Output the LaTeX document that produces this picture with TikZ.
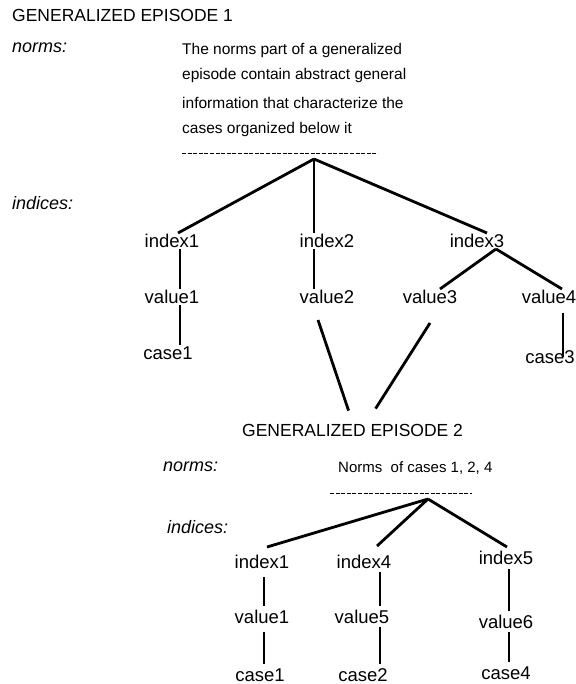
\documentclass[tikz,border=0pt]{standalone}
\usepackage{fontspec}
\setmainfont{Liberation Sans}

\begin{document}
\begin{tikzpicture}[x=1pt,y=-1pt,
  lbl/.style={inner sep=1pt,font=\fontsize{18.5}{20}\selectfont},
  head/.style={anchor=west,inner sep=0pt,font=\fontsize{17.5}{20}\selectfont},
  side/.style={anchor=west,inner sep=0pt,font=\fontsize{18}{20}\selectfont\itshape},
  note/.style={inner sep=0pt,font=\fontsize{15.5}{25}\selectfont},
  edge/.style={line width=2.8pt},
  gap/.style={edge,shorten <=#1,shorten >=3pt},
  rule/.style={line width=1pt,dash pattern=on 4pt off 1.6pt}]

\useasboundingbox (0,0) rectangle (575,684);

% Define coordinates
\coordinate (dashA1) at (182,154);
\coordinate (dashA2) at (378,154);
\coordinate (rootA) at (314,159);
\coordinate (dashB1) at (330,493);
\coordinate (dashB2) at (472,493);
\coordinate (rootB) at (428,499);

% EPISODE 1 texts
\node[head] (epA) at (12,15) {GENERALIZED EPISODE 1};
\node[side] (normsA) at (12,48) {norms:};
\node[note,anchor=north west,align=left] (textA) at (182,43)
  {The norms part of a generalized\\ episode contain abstract general\\[4pt]
   information that characterize the\\ cases organized below it};
\node[side] (indA) at (12,203) {indices:};
\draw[rule] (dashA1) -- (dashA2);

% EPISODE 1 tree
\node[lbl] (idxA1) at (172,241) {index1};
\node[lbl] (idxA2) at (327,241) {index2};
\node[lbl] (idxA3) at (477,241) {index3};
\node[lbl] (valA1) at (172,297) {value1};
\node[lbl] (valA2) at (327,297) {value2};
\node[lbl] (valA3) at (430,297) {value3};
\node[lbl] (valA4) at (549,297) {value4};
\node[lbl] (caseA1) at (168,353) {case1};
\node[lbl] (caseA3) at (550,357) {case3};

\draw[edge] (rootA) -- ([xshift=6pt]idxA1.north);
\draw[edge] (rootA) -- ([xshift=-13pt]idxA2.north);
\draw[edge] (rootA) -- ([xshift=10pt]idxA3.north);
\draw[edge] ([xshift=8pt]idxA1.south) -- ([xshift=8pt]valA1.north);
\draw[edge] ([xshift=8pt]valA1.south) -- ([xshift=8pt]valA1.south |- caseA1.north);
\draw[edge] ([xshift=-13pt]idxA2.south) -- ([xshift=-13pt]valA2.north);
\draw[edge] ([xshift=19pt]idxA3.south) -- ([xshift=10pt]valA3.north);
\draw[edge] ([xshift=19pt]idxA3.south) -- ([xshift=13pt]valA4.north);
\draw[edge] ([xshift=14pt,yshift=-8pt]valA4.south) -- ([xshift=14pt,yshift=-8pt]valA4.south |- caseA3.north);

% EPISODE 2 texts
\node[head] (epB) at (242,430) {GENERALIZED EPISODE 2};
\node[side] (normsB) at (163,467) {norms:};
\node[note,anchor=west,font=\fontsize{15}{18}\selectfont] (textB) at (338,468) {Norms\ \ of cases 1, 2, 4};
\node[side] (indB) at (167,527) {indices:};
\draw[rule] (dashB1) -- (dashB2);

% value2 and value3 lead to EPISODE 2
\draw[edge] ([xshift=-9pt,yshift=-15pt]valA2.south) -- ([xshift=-4pt,yshift=13pt]epB.north);
\draw[edge] ([yshift=-18pt]valA3.south) -- ([xshift=23pt,yshift=15pt]epB.north);

% EPISODE 2 tree
\node[lbl] (idxB1) at (262,562) {index1};
\node[lbl] (idxB4) at (364,562) {index4};
\node[lbl] (idxB5) at (506,558) {index5};
\node[lbl] (valB1) at (262,617) {value1};
\node[lbl] (valB5) at (362,617) {value5};
\node[lbl] (valB6) at (506,622) {value6};
\node[lbl] (caseB1) at (260,675) {case1};
\node[lbl] (caseB2) at (363,675) {case2};
\node[lbl] (caseB4) at (506,673) {case4};

\draw[edge] (rootB) -- ([xshift=5pt,yshift=7pt]idxB1.north);
\draw[edge] (rootB) -- ([xshift=13pt,yshift=8pt]idxB4.north);
\draw[edge] (rootB) -- ([xshift=1pt,yshift=3pt]idxB5.north);
\draw[gap=7pt] ([xshift=2pt]idxB1.south) -- ([xshift=2pt]idxB1.south |- valB1.north);
\draw[gap=7pt] ([xshift=2pt]valB1.south) -- ([xshift=2pt]valB1.south |- caseB1.north);
\draw[gap=2pt] ([xshift=16pt]idxB4.south) -- ([xshift=16pt]idxB4.south |- valB5.north);
\draw[gap=2pt] ([xshift=18pt]valB5.south) -- ([xshift=18pt]valB5.south |- caseB2.north);
\draw[gap=3pt] ([xshift=3pt]idxB5.south) -- ([xshift=3pt]idxB5.south |- valB6.north);
\draw[gap=2pt] ([xshift=3pt]valB6.south) -- ([xshift=3pt]valB6.south |- caseB4.north);

\end{tikzpicture}
\end{document}
